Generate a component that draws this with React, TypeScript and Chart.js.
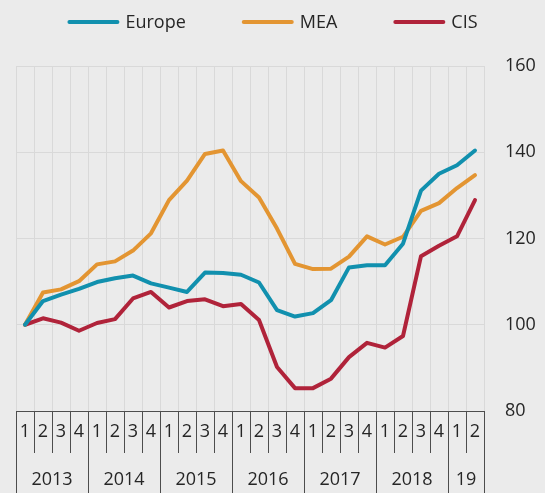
import React, { useEffect, useRef } from 'react';
import { Chart, registerables } from 'chart.js';

Chart.register(...registerables);

// ---- Data ----
const QUARTERS = ['1', '2', '3', '4', '1', '2', '3', '4', '1', '2', '3', '4', '1', '2', '3', '4', '1', '2', '3', '4', '1', '2', '3', '4', '1', '2'];
const YEARS = ['2013', '2014', '2015', '2016', '2017', '2018', '19'];
const QUARTERS_PER_YEAR = [4, 4, 4, 4, 4, 4, 2];

const EUROPE = [100, 105.5, 107.0, 108.3, 109.9, 110.8, 111.4, 109.6, 108.6, 107.6, 112.1, 112.0, 111.6, 109.8, 103.4, 101.9, 102.7, 105.7, 113.3, 113.8, 113.8, 118.8, 131.1, 135.0, 137.0, 140.4];
const MEA = [100, 107.5, 108.2, 110.1, 114.0, 114.7, 117.2, 121.2, 128.9, 133.4, 139.6, 140.4, 133.3, 129.5, 122.3, 114.1, 112.9, 113.0, 115.8, 120.5, 118.6, 120.4, 126.4, 128.2, 131.7, 134.7];
const CIS = [100, 101.5, 100.5, 98.6, 100.4, 101.3, 106.1, 107.6, 104.0, 105.5, 105.9, 104.3, 104.8, 101.1, 90.2, 85.3, 85.3, 87.5, 92.5, 95.8, 94.7, 97.4, 115.9, 118.3, 120.5, 128.9];

const SERIES_NAMES = ['Europe', 'MEA', 'CIS'];
const Y_MIN = 80;
const Y_MAX = 160;
const Y_STEP = 20;

// ---- Styles ----
const FONT_FAMILY = '"Open Sans", "DejaVu Sans", sans-serif';
const FONT_SIZE = 18;
const TEXT = '#262626';
const BG = '#ebebeb';
const GRID = '#d9d9d9';
const TABLE = '#4d4d4d';
const COLORS = ['#1190ae', '#e39532', '#b0233a'];

// Year axis ticks: boundaries (separator lines) and centres (labels)
type YearTick = { value: number; label: string; edge: boolean };
const YEAR_TICKS: YearTick[] = (() => {
  const out: YearTick[] = [{ value: 0, label: '', edge: true }];
  let pos = 0;
  YEARS.forEach((y, i) => {
    const n = QUARTERS_PER_YEAR[i];
    out.push({ value: pos + n / 2, label: y, edge: false });
    pos += n;
    out.push({ value: pos, label: '', edge: true });
  });
  return out;
})();

const legendPlugin = {
  id: 'topLegend',
  afterDraw(chart: any) {
    const ctx = chart.ctx as CanvasRenderingContext2D;
    const ds = chart.data.datasets;
    const lineW = 52;
    const gap = 6;
    const spacing = 56;
    const y = 22;
    ctx.save();
    ctx.font = `${FONT_SIZE}px ${FONT_FAMILY}`;
    const widths = ds.map((d: any) => lineW + gap + ctx.measureText(d.label).width);
    const total = widths.reduce((a: number, b: number) => a + b, 0) + spacing * (ds.length - 1);
    let x = (chart.width - total) / 2;
    ds.forEach((d: any, i: number) => {
      ctx.strokeStyle = d.borderColor;
      ctx.lineWidth = 4;
      ctx.lineCap = 'round';
      ctx.beginPath();
      ctx.moveTo(x + 2, y);
      ctx.lineTo(x + lineW - 2, y);
      ctx.stroke();
      ctx.fillStyle = TEXT;
      ctx.textBaseline = 'middle';
      ctx.textAlign = 'left';
      ctx.fillText(d.label, x + lineW + gap, y + 1);
      x += widths[i] + spacing;
    });
    ctx.restore();
  },
};

export default function App() {
  const canvasRef = useRef<HTMLCanvasElement | null>(null);

  useEffect(() => {
    document.body.style.margin = '0';
    document.body.style.background = BG;
    const canvas = canvasRef.current;
    if (!canvas) return;
    const font = { family: FONT_FAMILY, size: FONT_SIZE };
    const seriesData = [EUROPE, MEA, CIS];

    const chart = new Chart(canvas, {
      type: 'line',
      data: {
        labels: QUARTERS,
        datasets: SERIES_NAMES.map((name, i) => ({
          label: name,
          data: seriesData[i],
          borderColor: COLORS[i],
          backgroundColor: COLORS[i],
          borderWidth: 4,
          pointRadius: 0,
          pointHoverRadius: 0,
          tension: 0,
          fill: false,
          borderJoinStyle: 'round' as const,
          borderCapStyle: 'round' as const,
          xAxisID: 'x',
          yAxisID: 'y',
        })),
      },
      options: {
        animation: false,
        responsive: false,
        maintainAspectRatio: false,
        devicePixelRatio: 1,
        layout: { padding: { left: 16, top: 66, right: 0, bottom: 0 } },
        plugins: {
          legend: { display: false },
          tooltip: { enabled: false },
        },
        scales: {
          x: {
            type: 'category',
            position: 'bottom',
            offset: true,
            weight: 0,
            grid: {
              offset: true,
              color: GRID,
              lineWidth: 1,
              drawTicks: true,
              tickLength: 42,
              tickColor: TABLE,
              tickWidth: 1,
            },
            border: { display: true, color: TABLE, width: 1 },
            ticks: {
              autoSkip: false,
              maxRotation: 0,
              minRotation: 0,
              padding: -31.8,
              color: TEXT,
              font,
            },
            afterFit: (s: any) => {
              s.height = 42;
            },
          },
          x2: {
            type: 'linear',
            position: 'bottom',
            weight: 1,
            min: 0,
            max: QUARTERS.length,
            afterBuildTicks: (s: any) => {
              s.ticks = YEAR_TICKS.map((t) => ({ value: t.value }));
            },
            grid: {
              drawOnChartArea: false,
              drawTicks: true,
              tickLength: 40,
              lineWidth: 1,
              tickWidth: 1,
              tickColor: (ctx: any) => {
                const v = ctx.tick ? ctx.tick.value : null;
                const t = YEAR_TICKS.find((yt) => yt.value === v);
                return t && t.edge ? TABLE : 'rgba(0,0,0,0)';
              },
            },
            border: { display: false },
            ticks: {
              autoSkip: false,
              maxRotation: 0,
              minRotation: 0,
              padding: -23.8,
              color: TEXT,
              font,
              callback: (v: any) => {
                const t = YEAR_TICKS.find((yt) => yt.value === v);
                return t ? t.label : '';
              },
            },
            afterFit: (s: any) => {
              s.height = 40;
            },
          },
          y: {
            type: 'linear',
            position: 'right',
            min: Y_MIN,
            max: Y_MAX,
            grid: { color: GRID, lineWidth: 1, drawTicks: false },
            border: { display: false },
            ticks: {
              stepSize: Y_STEP,
              padding: 21,
              color: TEXT,
              font,
            },
            afterFit: (s: any) => {
              s.width = 61;
            },
          },
        },
      },
      plugins: [legendPlugin],
    });

    return () => {
      chart.destroy();
    };
  }, []);

  return (
    <div style={{ width: 545, height: 493, background: BG, overflow: 'hidden' }}>
      <canvas ref={canvasRef} width={545} height={493} style={{ display: 'block', width: 545, height: 493 }} />
    </div>
  );
}
